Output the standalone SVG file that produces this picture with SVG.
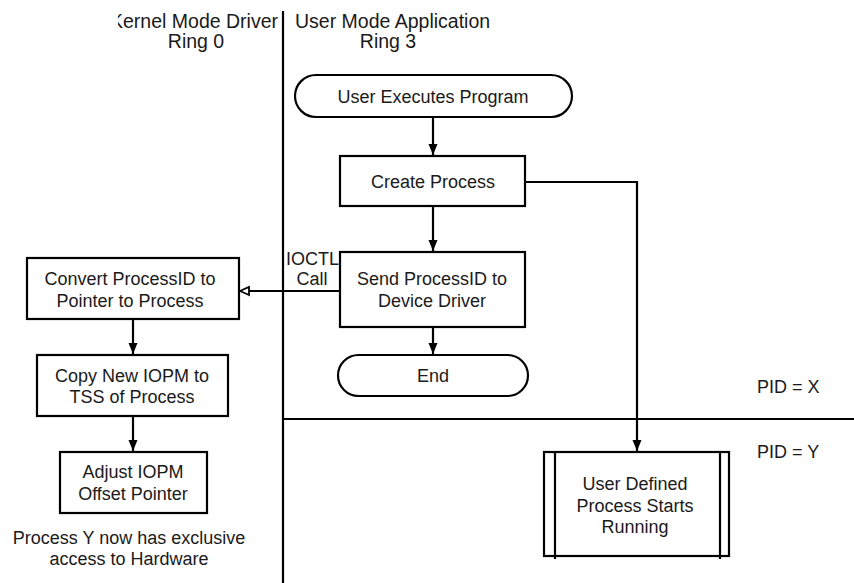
<svg xmlns="http://www.w3.org/2000/svg" width="854" height="583" viewBox="0 0 854 583">
<style>
text{font-family:"Liberation Sans",Arial,sans-serif;font-size:18px;fill:#1a1a1a}
.h{font-size:19.5px}
.c{text-anchor:middle}
.box{fill:#fff;stroke:#000;stroke-width:2.2}
.ln{fill:none;stroke:#000;stroke-width:2.2}
</style>
<defs>
<marker id="ah" markerWidth="12" markerHeight="12" refX="11" refY="6" orient="auto" markerUnits="userSpaceOnUse">
<path d="M0,1.5 L11,6 L0,10.5 Z" fill="#000"/>
</marker>
<marker id="hollow" markerWidth="12" markerHeight="12" refX="10" refY="6" orient="auto" markerUnits="userSpaceOnUse">
<path d="M1,2 L10,6 L1,10 Z" fill="#fff" stroke="#000" stroke-width="1.8"/>
</marker>
<clipPath id="kclip"><rect x="118" y="0" width="200" height="60"/></clipPath>
</defs>
<g id="lanes">
<line x1="283" y1="11" x2="283" y2="583" class="ln"/>
<line x1="283" y1="419" x2="854" y2="419" class="ln"/>
<text x="278" y="28" class="h" style="text-anchor:end" clip-path="url(#kclip)">Kernel Mode Driver</text>
<text x="196" y="48" class="h c">Ring 0</text>
<text x="295" y="28" class="h">User Mode Application</text>
<text x="388" y="48" class="h c">Ring 3</text>
<text x="757" y="393">PID = X</text>
<text x="757" y="458">PID = Y</text>
</g>
<g id="connectors">
<line x1="433" y1="117" x2="433" y2="155" class="ln" marker-end="url(#ah)"/>
<line x1="433" y1="207" x2="433" y2="251" class="ln" marker-end="url(#ah)"/>
<line x1="433" y1="328" x2="433" y2="354" class="ln" marker-end="url(#ah)"/>
<line x1="133" y1="320" x2="133" y2="354" class="ln" marker-end="url(#ah)"/>
<line x1="133" y1="417" x2="133" y2="451" class="ln" marker-end="url(#ah)"/>
<polyline points="526,182 637,182 637,451" class="ln" marker-end="url(#ah)"/>
<line x1="340" y1="291" x2="240" y2="291" class="ln" marker-end="url(#hollow)"/>
<text x="286" y="265">IOCTL</text>
<text x="312" y="285" class="c">Call</text>
</g>
<g id="n-user-executes">
<rect x="295" y="75" width="277" height="42" rx="21" ry="21" class="box"/>
<text x="433" y="103" class="c">User Executes Program</text>
</g>
<g id="n-create-process">
<rect x="340" y="156" width="185" height="50" class="box"/>
<text x="433" y="188" class="c">Create Process</text>
</g>
<g id="n-send">
<rect x="340" y="252" width="185" height="75" class="box"/>
<text x="432" y="285" class="c">Send ProcessID to</text>
<text x="432" y="307" class="c">Device Driver</text>
</g>
<g id="n-end">
<rect x="338" y="355" width="190" height="41" rx="20.5" ry="20.5" class="box"/>
<text x="433" y="382" class="c">End</text>
</g>
<g id="n-convert">
<rect x="27" y="258" width="212" height="61" class="box"/>
<text x="130" y="285" class="c">Convert ProcessID to</text>
<text x="130" y="307" class="c">Pointer to Process</text>
</g>
<g id="n-copy">
<rect x="37" y="355" width="191" height="61" class="box"/>
<text x="132" y="382" class="c">Copy New IOPM to</text>
<text x="132" y="403" class="c">TSS of Process</text>
</g>
<g id="n-adjust">
<rect x="60" y="452" width="147" height="61" class="box"/>
<text x="133" y="478" class="c">Adjust IOPM</text>
<text x="133" y="500" class="c">Offset Pointer</text>
</g>
<g id="n-note">
<text x="129" y="544" class="c">Process Y now has exclusive</text>
<text x="129" y="565" class="c">access to Hardware</text>
</g>
<g id="n-user-defined">
<rect x="544" y="452" width="185" height="104" class="box"/>
<line x1="555" y1="452" x2="555" y2="559" class="ln"/>
<line x1="720" y1="452" x2="720" y2="559" class="ln"/>
<text x="635" y="490" class="c">User Defined</text>
<text x="635" y="512" class="c">Process Starts</text>
<text x="635" y="533" class="c">Running</text>
</g>
</svg>
